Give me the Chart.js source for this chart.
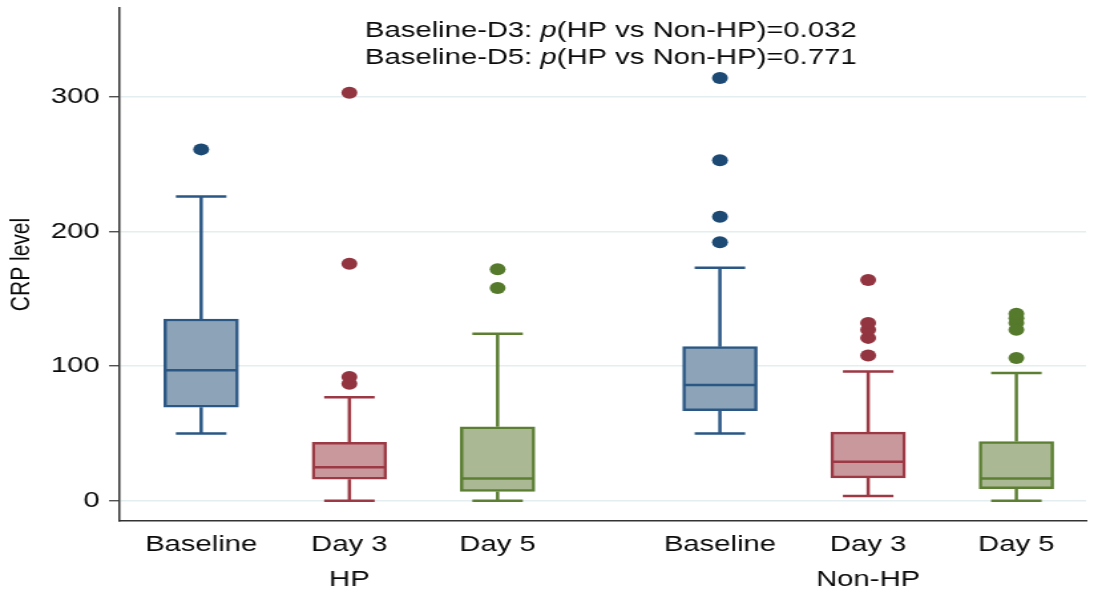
<!DOCTYPE html>
<html>
<head>
<meta charset="utf-8">
<script src="https://cdn.jsdelivr.net/npm/chart.js@4.4.1/dist/chart.umd.min.js"></script>
<style>
  html, body { margin: 0; padding: 0; background: #fff; overflow: hidden; }
  #wrap { width: 1094px; height: 594px; }
  /* the original graph is stretched sideways, so draw narrow and stretch */
  #crpChart { transform: scaleX(1.3293); transform-origin: 0 0; }
</style>
</head>
<body>
<div id="wrap"><canvas id="crpChart" width="823" height="594"></canvas></div>
<script>
const categories = ['Baseline', 'Day 3', 'Day 5', 'Baseline', 'Day 3', 'Day 5'];
const groups = ['HP', 'HP', 'HP', 'Non-HP', 'Non-HP', 'Non-HP'];
const xPositions = [1, 2, 3, 4.5, 5.5, 6.5];
const timeIndex = [0, 1, 2, 0, 1, 2];

const whiskerLow = [50, 0, 0, 50, 3.5, 0];
const q1 = [69.5, 16, 7, 67, 17, 9];
const median = [97, 25, 16.5, 86, 29, 16.5];
const q3 = [135, 43.5, 55, 114.5, 51, 44];
const whiskerHigh = [226, 77, 124, 173, 96, 95];
const outliers = [
    [261],
    [87, 92, 176, 303],
    [158, 172],
    [192, 211, 253, 314],
    [108, 121, 127, 132, 164],
    [106, 127, 132, 135.5, 139]
];

const yTicks = [0, 100, 200, 300];
const noteLines = [
    ['Baseline-D3: ', 'p', '(HP vs Non-HP)=0.032'],
    ['Baseline-D5: ', 'p', '(HP vs Non-HP)=0.771']
];

// Stata s2color-like palette
const fillColors = ['#8ca3b8', '#c9989c', '#aab894'];
const lineColors = ['#2a5784', '#9c3944', '#5c7f33'];
const dotColors = ['#1c4a74', '#933540', '#557a2c'];

const boxData = xPositions.map((x, i) => ({ x: x, y: [q1[i], q3[i]] }));

const outlierSets = [0, 1, 2].map(t => {
    const pts = [];
    xPositions.forEach((x, i) => {
        if (timeIndex[i] !== t) return;
        outliers[i].forEach(v => pts.push({ x: x, y: v }));
    });
    return {
        type: 'scatter',
        data: pts,
        backgroundColor: dotColors[t],
        borderWidth: 0,
        pointRadius: 6,
        pointHoverRadius: 6
    };
});

const FONT = "'Liberation Sans', Arial, Helvetica, sans-serif";
const TEXT = '#0a0a0a';

const boxExtras = {
    id: 'boxExtras',
    afterDatasetsDraw(chart) {
        const ctx = chart.ctx;
        const xs = chart.scales.x;
        const ys = chart.scales.y;
        const half = 28;
        const cap = 19;
        ctx.save();
        ctx.lineWidth = 2.5;
        xPositions.forEach((x, i) => {
            const px = xs.getPixelForValue(x);
            ctx.strokeStyle = lineColors[timeIndex[i]];
            ctx.beginPath();
            // median
            ctx.moveTo(px - half + 1, ys.getPixelForValue(median[i]));
            ctx.lineTo(px + half - 1, ys.getPixelForValue(median[i]));
            // upper whisker
            ctx.moveTo(px, ys.getPixelForValue(q3[i]));
            ctx.lineTo(px, ys.getPixelForValue(whiskerHigh[i]));
            ctx.moveTo(px - cap, ys.getPixelForValue(whiskerHigh[i]));
            ctx.lineTo(px + cap, ys.getPixelForValue(whiskerHigh[i]));
            // lower whisker
            ctx.moveTo(px, ys.getPixelForValue(q1[i]));
            ctx.lineTo(px, ys.getPixelForValue(whiskerLow[i]));
            ctx.moveTo(px - cap, ys.getPixelForValue(whiskerLow[i]));
            ctx.lineTo(px + cap, ys.getPixelForValue(whiskerLow[i]));
            ctx.stroke();
        });

        // p-value note
        ctx.fillStyle = TEXT;
        ctx.textBaseline = 'middle';
        ctx.textAlign = 'left';
        const startX = 274.5;
        noteLines.forEach((parts, row) => {
            let x = startX;
            const y = 31 + row * 27;
            parts.forEach((txt, k) => {
                ctx.font = (k === 1 ? 'italic ' : '') + '22px ' + FONT;
                ctx.fillText(txt, x, y);
                x += ctx.measureText(txt).width;
            });
        });
        ctx.restore();
    }
};

const canvas = document.getElementById('crpChart');
const ctx = canvas.getContext('2d');

new Chart(ctx, {
    type: 'bar',
    data: {
        datasets: [{
            type: 'bar',
            data: boxData,
            backgroundColor: xPositions.map((x, i) => fillColors[timeIndex[i]]),
            borderColor: xPositions.map((x, i) => lineColors[timeIndex[i]]),
            borderWidth: 2.5,
            borderSkipped: false,
            barThickness: 56,
            grouped: false
        }, ...outlierSets]
    },
    options: {
        responsive: false,
        animation: false,
        devicePixelRatio: 1,
        layout: { padding: { top: 8, right: 3, left: 0, bottom: 0 } },
        plugins: {
            legend: { display: false },
            tooltip: { enabled: false }
        },
        scales: {
            x: {
                type: 'linear',
                offset: false,
                min: 0.45,
                max: 6.97,
                afterBuildTicks: (scale) => {
                    scale.ticks = xPositions.map(v => ({ value: v }));
                },
                afterFit: (scale) => {
                    scale.height = 73;
                    scale.paddingLeft = 0;
                    scale.paddingRight = 0;
                },
                ticks: {
                    autoSkip: false,
                    maxRotation: 0,
                    padding: 6,
                    color: TEXT,
                    font: { family: FONT, size: 22, lineHeight: 1.6 },
                    callback: (value) => {
                        const i = xPositions.indexOf(value);
                        if (i < 0) return '';
                        return (i === 1 || i === 4) ? [categories[i], groups[i]] : categories[i];
                    }
                },
                grid: { display: false, drawTicks: false },
                border: { display: true, color: '#333', width: 1.5 }
            },
            y: {
                type: 'linear',
                min: -15,
                max: 366,
                afterBuildTicks: (scale) => {
                    scale.ticks = yTicks.map(v => ({ value: v }));
                },
                afterFit: (scale) => {
                    scale.width = 90;
                    scale.paddingTop = 0;
                    scale.paddingBottom = 0;
                },
                ticks: {
                    padding: 7,
                    color: TEXT,
                    font: { family: FONT, size: 22 }
                },
                grid: {
                    color: '#e4eef0',
                    lineWidth: 1.5,
                    tickColor: '#333',
                    tickLength: 8,
                    tickWidth: 1.2
                },
                border: { display: true, color: '#333', width: 1.5 },
                title: {
                    display: true,
                    text: 'CRP level',
                    color: TEXT,
                    font: { family: FONT, size: 21 },
                    padding: { top: 4, bottom: 4 }
                }
            }
        }
    },
    plugins: [boxExtras]
});
</script>
</body>
</html>
